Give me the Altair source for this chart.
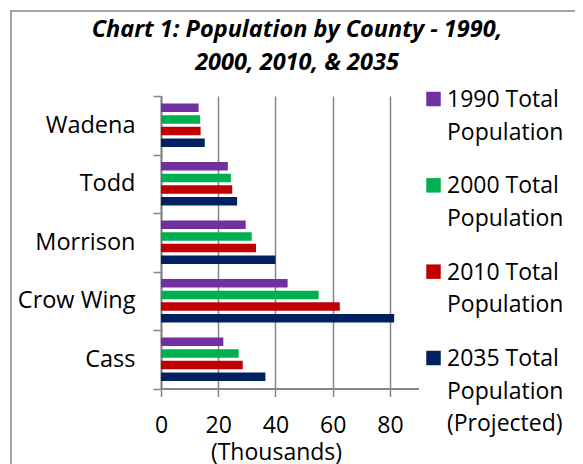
import altair as alt
import pandas as pd

counties = ["Wadena", "Todd", "Morrison", "Crow Wing", "Cass"]
series = [
    "1990 Total Population",
    "2000 Total Population",
    "2010 Total Population",
    "2035 Total Population (Projected)",
]
legend_labels = [
    "1990 Total\nPopulation",
    "2000 Total\nPopulation",
    "2010 Total\nPopulation",
    "2035 Total\nPopulation\n(Projected)",
]
colors = ["#7030A0", "#00B050", "#C00000", "#002060"]
title_text = "Chart 1: Population by County - 1990,\n2000, 2010, & 2035"

# thousands of people, per county (order of `counties`)
pop_1990 = [13.15, 23.36, 29.60, 44.25, 21.79]
pop_2000 = [13.71, 24.43, 31.71, 55.10, 27.15]
pop_2010 = [13.84, 24.90, 33.20, 62.50, 28.57]
pop_2035 = [15.3, 26.6, 40.0, 81.5, 36.5]

x_ticks = [0, 20, 40, 60, 80]

rows = []
for s, vals in zip(series, [pop_1990, pop_2000, pop_2010, pop_2035]):
    for c, v in zip(counties, vals):
        rows.append({"county": c, "series": s, "value": v})
df = pd.DataFrame(rows)

leg_df = pd.DataFrame({"series": series, "label": legend_labels})

FONT = "Open Sans"
GRAY = "#868686"

color_scale = alt.Scale(domain=series, range=colors)

bars = alt.Chart(df).mark_bar().encode(
    x=alt.X(
        "value:Q",
        scale=alt.Scale(domain=[0, 90], nice=False, zero=True),
        axis=alt.Axis(
            values=x_ticks,
            title="(Thousands)",
            titleFont=FONT,
            titleFontSize=23,
            titleFontWeight="normal",
            titleColor="black",
            titleX=115,
            titleY=70.5,
            titleBaseline="alphabetic",
            titleAnchor="middle",
            titleAlign="center",
            labelFont=FONT,
            labelFontSize=23,
            labelColor="black",
            labelPadding=18,
            labelFlush=False,
            labelOverlap=False,
            tickSize=8,
            tickColor=GRAY,
            tickWidth=1.5,
            domainColor=GRAY,
            domainWidth=2,
            grid=True,
            gridColor=GRAY,
            gridWidth=1.5,
        ),
    ),
    y=alt.Y(
        "county:N",
        sort=counties,
        scale=alt.Scale(paddingInner=0, paddingOuter=0),
        axis=alt.Axis(
            title=None,
            tickBand="extent",
            labelFont=FONT,
            labelFontSize=23.5,
            labelColor="black",
            labelPadding=18,
            tickSize=8,
            tickColor=GRAY,
            tickWidth=1.5,
            domainColor=GRAY,
            domainWidth=2,
            grid=False,
        ),
    ),
    yOffset=alt.YOffset(
        "series:N", sort=series, scale=alt.Scale(paddingInner=0.27, paddingOuter=0.635)
    ),
    color=alt.Color("series:N", sort=series, scale=color_scale, legend=None),
)

leg_y = alt.Y(
    "series:N",
    sort=series,
    scale=alt.Scale(type="point", domain=series, range=[3, 262], padding=0),
    axis=None,
)

leg_sym = alt.Chart(leg_df).mark_square(size=210, opacity=1).encode(
    x=alt.value(272.5),
    y=leg_y,
    color=alt.Color("series:N", scale=color_scale, legend=None),
)

leg_txt = alt.Chart(leg_df).mark_text(
    align="left",
    baseline="top",
    dy=-10,
    lineBreak="\n",
    lineHeight=32.5,
    fontSize=23,
    font=FONT,
    color="black",
).encode(x=alt.value(286), y=leg_y, text="label:N")

title = alt.Chart(pd.DataFrame({"t": [title_text]})).mark_text(
    align="center",
    baseline="top",
    lineBreak="\n",
    lineHeight=33.3,
    fontSize=23.5,
    font=FONT,
    fontStyle="italic",
    fontWeight="bold",
    color="black",
).encode(x=alt.value(136), y=alt.value(-78), text="t:N")

frame = alt.Chart(pd.DataFrame({"k": [0]})).mark_rect(
    fillOpacity=0, stroke=GRAY, strokeWidth=1.5
).encode(
    x=alt.value(-150), x2=alt.value(440), y=alt.value(-85), y2=alt.value(420)
)

chart = (
    alt.layer(frame, bars, leg_sym, leg_txt, title)
    .resolve_scale(y="independent")
    .properties(
        width=257.5,
        height=292.5,
        autosize=alt.AutoSizeParams(type="none"),
        padding={"left": 153, "top": 88, "right": 156.5, "bottom": 75.5},
    )
    .configure_view(stroke=None)
)

chart.save("out.html", embed_options={"renderer": "svg", "actions": False})
